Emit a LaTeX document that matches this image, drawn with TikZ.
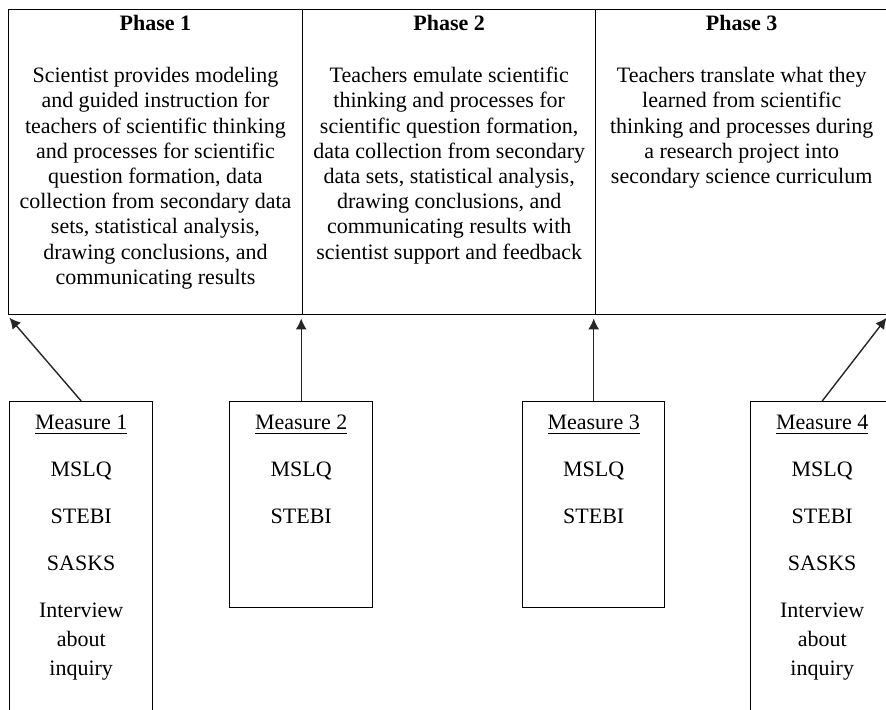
\documentclass[tikz,border=0pt]{standalone}
\usepackage{fontspec}
\setmainfont{Liberation Serif}
\usetikzlibrary{arrows.meta}

\begin{document}
\begin{tikzpicture}[%
      x=0.5pt, y=-0.5pt,
      box/.style={draw=black, line width=0.7pt, inner sep=0pt, anchor=north west},
      phasetext/.style={align=center, anchor=north, inner sep=0pt,
        font=\fontsize{11pt}{12.6pt}\selectfont},
      measuretext/.style={align=center, anchor=north, inner sep=0pt,
        font=\fontsize{11pt}{14.5pt}\selectfont},
      arr/.style={draw=black!85, line width=0.7pt,
        -{Latex[length=5.5pt,width=5.5pt]}, shorten >=1.5pt},
      ]
      \useasboundingbox (0,0) rectangle (886,709);
      \clip (0,0) rectangle (886,709);

      % phases
      \node [box, minimum width=147.25pt, minimum height=152.5pt] (p1) at (7.5,9) {};
      \node [box, minimum width=146.5pt, minimum height=152.5pt] (p2) at (302,9) {};
      \node [box, minimum width=146pt, minimum height=152.5pt] (p3) at (595,9) {};

      \node [phasetext] (p1text) at ([yshift=-3pt]p1.north) {\textbf{Phase 1}\\[13.4pt]
        Scientist provides modeling\\ and guided instruction for\\
        teachers of scientific thinking\\ and processes for scientific\\
        question formation, data\\ collection from secondary data\\
        sets, statistical analysis,\\ drawing conclusions, and\\
        communicating results};
      \node [phasetext] (p2text) at ([yshift=-3pt]p2.north) {\textbf{Phase 2}\\[13.4pt]
        Teachers emulate scientific\\ thinking and processes for\\
        scientific question formation,\\ data collection from secondary\\
        data sets, statistical analysis,\\ drawing conclusions, and\\
        communicating results with\\ scientist support and feedback};
      \node [phasetext] (p3text) at ([yshift=-3pt]p3.north) {\textbf{Phase 3}\\[13.4pt]
        Teachers translate what they\\ learned from scientific\\
        thinking and processes during\\ a research project into\\
        secondary science curriculum};

      % measures
      \node [box, minimum width=71.5pt, minimum height=159.5pt] (m1) at (9,401) {};
      \node [box, minimum width=71.5pt, minimum height=103pt] (m2) at (229,401) {};
      \node [box, minimum width=71pt, minimum height=103pt] (m3) at (522,401) {};
      \node [box, minimum width=71.5pt, minimum height=159.5pt] (m4) at (750,401) {};

      \node [measuretext] (m1text) at ([yshift=-7pt]m1.north) {\underline{Measure 1}\\[9pt]
        MSLQ\\[9pt] STEBI\\[9pt] SASKS\\[9pt] Interview\\ about\\ inquiry};
      \node [measuretext] (m2text) at ([yshift=-7pt]m2.north) {\underline{Measure 2}\\[9pt]
        MSLQ\\[9pt] STEBI};
      \node [measuretext] (m3text) at ([yshift=-7pt]m3.north) {\underline{Measure 3}\\[9pt]
        MSLQ\\[9pt] STEBI};
      \node [measuretext] (m4text) at ([yshift=-7pt]m4.north) {\underline{Measure 4}\\[9pt]
        MSLQ\\[9pt] STEBI\\[9pt] SASKS\\[9pt] Interview\\ about\\ inquiry};

      \draw [arr] (m1.north) -- (p1.south west);
      \draw [arr] (m2.north) -- (m2.north |- p1.south);
      \draw [arr] (m3.north) -- (m3.north |- p2.south);
      \draw [arr] (m4.north) -- (p3.south east);
      \end{tikzpicture}
\end{document}
